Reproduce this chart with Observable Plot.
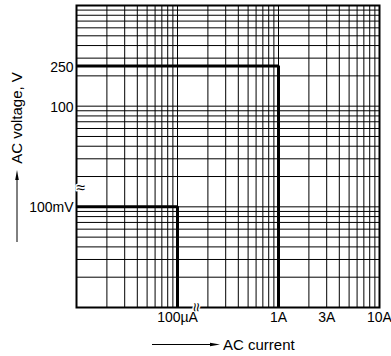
<!DOCTYPE html>
<html>
<head>
<meta charset="utf-8">
<script src="https://cdn.jsdelivr.net/npm/d3@7"></script>
<script src="https://cdn.jsdelivr.net/npm/@observablehq/plot@0.6"></script>
<style>
  html, body { margin: 0; padding: 0; background: #fff; }
  svg { display: block; font-family: "Liberation Sans", Arial, sans-serif; }
</style>
</head>
<body>
<div id="chart"></div>
<script>
// ---- data (currents in A, voltages in V) ----
const lowCurrent  = [1e-5, 1e-4, 1e-4];
const lowVoltage  = [0.1, 0.1, 0.01];
const highCurrent = [1e-5, 1, 1];
const highVoltage = [250, 250, 0.01];

// grid lines
const xGridMicroAmps = [20e-6, 30e-6, 40e-6, 50e-6, 60e-6, 70e-6, 80e-6, 90e-6, 100e-6];
const xGridAmps = [0.2, 0.3, 0.4, 0.5, 0.6, 0.7, 0.8, 0.9, 1, 2, 3, 4, 5, 6, 7, 8, 9, 10];
const yGridMilliVolts = [0.02, 0.03, 0.04, 0.05, 0.06, 0.07, 0.08, 0.09, 0.1];
const yGridVolts = [20, 30, 40, 50, 60, 70, 80, 90, 100, 200, 300, 400, 500, 600, 700, 800, 900, 1000];

// tick labels
const xTickValues = [1e-4, 1, 3, 10];
const xTickLabels = ["100\u00b5A", "1A", "3A", "10A"];
const yTickValues = [250, 100, 0.1];
const yTickLabels = ["250", "100", "100mV"];

// axis titles
const xTitle = "AC current";
const yTitle = "AC voltage, V";

// axis breaks (in decade units of the broken axes)
const xBreaks = [1.13];
const yBreaks = [1.19];

// broken log axes: each decade is one unit
const tx = a => a <= 1e-4 ? Math.log10(a) + 5 : Math.log10(a) + 2;
const ty = v => v <= 0.2 ? Math.log10(v) + 2 : Math.log10(v);

const low = lowCurrent.map((c, i) => ({c, v: lowVoltage[i]}));
const high = highCurrent.map((c, i) => ({c, v: highVoltage[i]}));
const xGrid = [...xGridMicroAmps, ...xGridAmps];
const yGrid = [...yGridMilliVolts, ...yGridVolts];
const xTicks = xTickValues.map((v, i) => ({v, t: xTickLabels[i]}));
const yTicks = yTickValues.map((v, i) => ({v, t: yTickLabels[i]}));

const W = 391, H = 356, ML = 76, MR = 12, MT = 5, MB = 49;

const svg = Plot.plot({
  width: W, height: H,
  marginLeft: ML, marginRight: MR, marginTop: MT, marginBottom: MB,
  x: {type: "linear", domain: [0, 3], axis: null},
  y: {type: "linear", domain: [0, 3], axis: null},
  style: {fontFamily: "'Liberation Sans', Arial, sans-serif", fontSize: "14px", background: "white", overflow: "visible"},
  marks: [
    Plot.ruleX(xGrid, {x: d => tx(d), stroke: "black", strokeWidth: 1}),
    Plot.ruleY(yGrid, {y: d => ty(d), stroke: "black", strokeWidth: 1}),
    Plot.frame({stroke: "black", strokeWidth: 2}),
    Plot.line(low, {x: d => tx(d.c), y: d => ty(d.v), stroke: "black", strokeWidth: 3, strokeLinejoin: "miter", strokeLinecap: "butt"}),
    Plot.line(high, {x: d => tx(d.c), y: d => ty(d.v), stroke: "black", strokeWidth: 3, strokeLinejoin: "miter", strokeLinecap: "butt"}),
    Plot.text(yBreaks, {y: d => d, frameAnchor: "left", text: () => "\u2248", fontSize: 16, fill: "black", stroke: "white", strokeWidth: 3}),
    Plot.text(xBreaks, {x: d => d, frameAnchor: "bottom", text: () => "\u2248", rotate: 90, fontSize: 16, fill: "black", stroke: "white", strokeWidth: 3}),
    Plot.text(yTicks, {y: d => ty(d.v), text: "t", frameAnchor: "left", textAnchor: "end", dx: -3, dy: 1, fill: "black"}),
    Plot.text(xTicks, {x: d => tx(d.v), text: "t", frameAnchor: "bottom", lineAnchor: "middle", dy: 10, fill: "black"})
  ]
});

// axis titles and their decorative arrows
const g = d3.select(svg).append("g").attr("fill", "black");
g.append("text").attr("transform", "translate(16,118) rotate(-90)")
  .attr("text-anchor", "middle").attr("dominant-baseline", "central")
  .attr("font-size", 15).text(yTitle);
g.append("text").attr("x", 223).attr("y", 344.5)
  .attr("text-anchor", "start").attr("dominant-baseline", "central")
  .attr("font-size", 15).text(xTitle);
// y arrow (pointing up)
g.append("line").attr("x1", 17).attr("x2", 17).attr("y1", 242).attr("y2", 178).attr("stroke", "black").attr("stroke-width", 1);
g.append("path").attr("d", "M17,170 L15.2,180 L18.8,180 Z");
// x arrow (pointing right)
g.append("line").attr("x1", 152).attr("x2", 212).attr("y1", 344.5).attr("y2", 344.5).attr("stroke", "black").attr("stroke-width", 1);
g.append("path").attr("d", "M220,344.5 L210,342.7 L210,346.3 Z");

document.getElementById("chart").appendChild(svg);
</script>
</body>
</html>
